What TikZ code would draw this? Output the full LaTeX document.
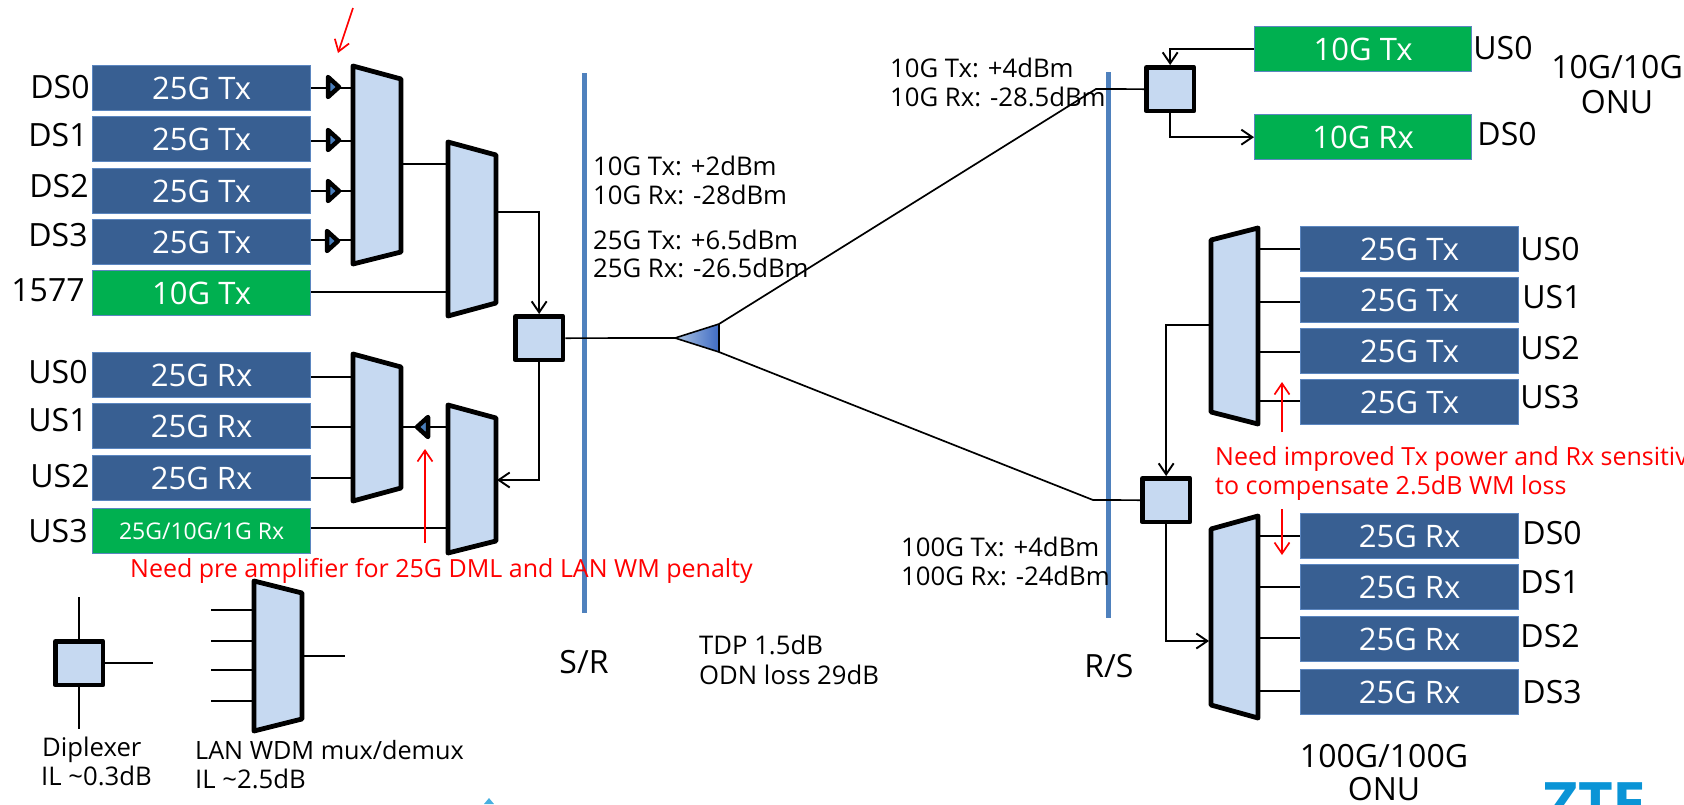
\documentclass[tikz,border=0pt]{standalone}
\usepackage{fontspec}
\setmainfont{Open Sans}
\usetikzlibrary{arrows.meta}
\definecolor{boxblue}{HTML}{385F92}
\definecolor{boxedge}{HTML}{5B86C0}
\definecolor{boxgreen}{HTML}{00B050}
\definecolor{lightfill}{HTML}{C6D9F1}
\definecolor{barblue}{HTML}{4F81BD}
\definecolor{ampblue}{HTML}{4A7EBB}
\definecolor{ztecol}{HTML}{0A94D6}
\newcommand{\bigf}{\fontsize{31}{36}\selectfont}
\newcommand{\medf}{\fontsize{32}{36}\selectfont}
\newcommand{\smf}{\fontsize{25.7}{29}\selectfont}
\newcommand{\redf}{\fontsize{25}{29}\selectfont}
\tikzset{
 x=1pt,y=-1pt,
 bx/.style={draw=boxedge,line width=1.3pt,fill=boxblue,text=white,font=\bigf,minimum width=218pt,minimum height=45pt,inner sep=0pt,anchor=north west},
 gx/.style={bx,fill=boxgreen},
 lbl/.style={font=\medf,text=black,inner sep=0pt,anchor=base},
 note/.style={font=\smf,text=black,inner sep=0pt,anchor=base west},
 dpx/.style={draw=black,line width=4.8pt,line join=round,fill=lightfill,inner sep=0pt,minimum width=47.5pt,minimum height=43.5pt,anchor=north west},
 mx/.style={draw=black,line width=4.8pt,line join=round,fill=lightfill},
 amp/.style={draw=black,line width=4.5pt,line join=round,fill=ampblue},
 wire/.style={draw=black,line width=1.7pt},
 arr/.style={wire,-{Straight Barb[length=11pt,width=15pt,line width=1.9pt]}},
 redarr/.style={draw=red,line width=1.7pt,-{Straight Barb[length=11pt,width=15pt,line width=1.7pt]}},
 bar/.style={draw=barblue,line width=5pt},
 rednote/.style={font=\redf,text=red,inner sep=0pt,anchor=base west},
}
\begin{document}
\begin{tikzpicture}
\useasboundingbox (0,0) rectangle (1684,804);
% S/R, R/S bars
\draw[bar] (584,73) -- (584,613);
\draw[bar] (1108,72) -- (1108,618);
% Left boxes
\node[bx] (ds0) at (92,65) {25G Tx};
\node[bx] (ds1) at (92,116) {25G Tx};
\node[bx] (ds2) at (92,168) {25G Tx};
\node[bx] (ds3) at (92,219) {25G Tx};
\node[gx] (g1577) at (92,270) {10G Tx};
\node[bx] (us0) at (92,352) {25G Rx};
\node[bx] (us1) at (92,403) {25G Rx};
\node[bx] (us2) at (92,455) {25G Rx};
\node[gx,font=\fontsize{23}{27}\selectfont] (us3) at (92,508) {25G/10G/1G Rx};
% Left labels
\node[lbl] (lds0) at (60,98) {DS0};
\node[lbl] (lds1) at (58,146) {DS1};
\node[lbl] (lds2) at (59,197) {DS2};
\node[lbl] (lds3) at (58,246) {DS3};
\node[lbl] (l1577) at (48,301) {1577};
\node[lbl] (lus0) at (58,383) {US0};
\node[lbl] (lus1) at (58,431) {US1};
\node[lbl] (lus2) at (60,487) {US2};
\node[lbl] (lus3) at (58,542) {US3};
% Wires behind muxes (left)
\draw[wire] (311,88) -- (351,88);
\draw[wire] (311,141) -- (351,141);
\draw[wire] (311,191) -- (351,191);
\draw[wire] (311,240) -- (351,240);
\draw[wire] (402,164) -- (446,164);
\draw[wire] (311,292) -- (446,292);
\draw[wire] (311,377) -- (351,377);
\draw[wire] (311,427) -- (351,427);
\draw[wire] (311,478) -- (351,478);
\draw[wire] (311,528) -- (446,528);
\draw[wire] (402,427) -- (446,427);
% Amps
\draw[amp] (328,77) -- (339,87) -- (328,97) -- cycle;
\draw[amp] (328,130) -- (339,140) -- (328,150) -- cycle;
\draw[amp] (328,181) -- (339,191) -- (328,201) -- cycle;
\draw[amp] (327,231) -- (338,241) -- (327,251) -- cycle;
\draw[amp] (428,417) -- (417,427) -- (428,437) -- cycle;
% Muxes
\draw[mx] (353,66) -- (401,79) -- (401,252) -- (353,264) -- cycle;
\draw[mx] (448,142) -- (496,155) -- (496,303) -- (448,316) -- cycle;
\draw[mx] (353,354) -- (401,367) -- (401,488) -- (353,501) -- cycle;
\draw[mx] (448,405) -- (496,418) -- (496,541) -- (448,553) -- cycle;
\draw[mx] (1211,240) -- (1258,228) -- (1258,424) -- (1211,412) -- cycle;
\draw[mx] (1211,529) -- (1258,516) -- (1258,718) -- (1211,705) -- cycle;
\draw[mx] (254,581) -- (302,593) -- (302,719) -- (254,731) -- cycle;
% Diplexers
\node[dpx] (dA) at (513,314) {};
\node[dpx] (dB) at (1144,65) {};
\node[dpx] (dC) at (1140,476) {};
\node[dpx] (dL) at (53,639) {};
% Splitter
\shade[left color=ampblue!45!white,right color=ampblue!85!blue] (675,338) -- (719,324) -- (719,352) -- cycle;
\draw[line width=1.6pt,line join=round] (675,338) -- (719,324) -- (719,352) -- cycle;
\coordinate (spt) at (675,338);
\coordinate (sptop) at (719,324);
\coordinate (spbot) at (719,352);
% Left flow
\draw[arr] (497,212) -| (dA.north);
\draw[arr] (dA.south) |- (497,480);
\draw[wire] (dA.east) -- (spt);
% Fibres
\draw[wire] (sptop) -- (1096,89) -- (dB.west);
\draw[wire] (spbot) -- (1093,500) -- (dC.west);
% Right boxes
\node[gx,minimum width=217pt] (t10) at (1254,26) {10G Tx};
\node[gx,minimum width=217pt] (r10) at (1254,114) {10G Rx};
\node[bx] (u0) at (1300,226) {25G Tx};
\node[bx] (u1) at (1300,277) {25G Tx};
\node[bx] (u2) at (1300,328) {25G Tx};
\node[bx] (u3) at (1300,379) {25G Tx};
\node[bx] (d0) at (1300,513) {25G Rx};
\node[bx] (d1) at (1300,564) {25G Rx};
\node[bx] (d2) at (1300,616) {25G Rx};
\node[bx] (d3) at (1300,669) {25G Rx};
% Right wires
\draw[arr] (t10.west) -| (dB.north);
\draw[arr] (dB.south) |- (r10.west);
\draw[wire] (1259,249) -- (1300,249);
\draw[wire] (1259,302) -- (1300,302);
\draw[wire] (1259,352) -- (1300,352);
\draw[wire] (1259,401) -- (1300,401);
\draw[wire] (1259,536) -- (1300,536);
\draw[wire] (1259,587) -- (1300,587);
\draw[wire] (1259,638) -- (1300,638);
\draw[wire] (1259,691) -- (1300,691);
\draw[arr] (1209,325) -| (dC.north);
\draw[arr] (dC.south) |- (1209,641);
% Right labels
\node[lbl] (rus0) at (1503,59) {US0};
\node[lbl] (rds0) at (1507,145) {DS0};
\node[lbl] (a0) at (1550,260) {US0};
\node[lbl] (a1) at (1552,308) {US1};
\node[lbl] (a2) at (1550,359) {US2};
\node[lbl] (a3) at (1550,408) {US3};
\node[lbl] (b0) at (1552,544) {DS0};
\node[lbl] (b1) at (1550,593) {DS1};
\node[lbl] (b2) at (1550,647) {DS2};
\node[lbl] (b3) at (1552,703) {DS3};
\node[lbl] (onu10a) at (1617,78) {10G/10G};
\node[lbl] (onu10b) at (1617,113) {ONU};
\node[lbl] (onu100a) at (1384,767) {100G/100G};
\node[lbl] (onu100b) at (1384,800) {ONU};
% Notes
\node[note] at (890,77) {10G Tx: +4dBm};
\node[note] at (890,106) {10G Rx: -28.5dBm};
\node[note] at (593,175) {10G Tx: +2dBm};
\node[note] at (593,204) {10G Rx: -28dBm};
\node[note] at (593,249) {25G Tx: +6.5dBm};
\node[note] at (593,277) {25G Rx: -26.5dBm};
\node[note] at (901,556) {100G Tx: +4dBm};
\node[note] at (901,585) {100G Rx: -24dBm};
\node[note] at (699,654) {TDP 1.5dB};
\node[note] at (699,684) {ODN loss 29dB};
\node[lbl] (sr) at (584,673) {S/R};
\node[lbl] (rs) at (1109,677) {R/S};
% Red
\draw[redarr] (353,8) -- (338,53);
\draw[redarr] (425,543) -- (425,449);
\draw[redarr] (1282,432) -- (1282,382);
\draw[redarr] (1282,509) -- (1282,555);
\node[rednote] at (130,577) {Need pre amplifier for 25G DML and LAN WM penalty};
\begin{scope}
\clip (0,0) rectangle (1684,804);
\node[rednote] at (1215,465) {Need improved Tx power and Rx sensitivity};
\end{scope}
\node[rednote] at (1215,494) {to compensate 2.5dB WM loss};
% Legend
\draw[wire] (dL.north) -- ++(0,-42);
\draw[wire] (dL.south) -- ++(0,42);
\draw[wire] (dL.east) -- ++(48,0);
\draw[wire] (211,610) -- (252,610);
\draw[wire] (211,641) -- (252,641);
\draw[wire] (211,670) -- (252,670);
\draw[wire] (211,701) -- (252,701);
\draw[wire] (303,656) -- (345,656);
\node[note] at (42,756) {Diplexer};
\node[note] at (41,785) {IL \textasciitilde 0.3dB};
\node[note,font=\fontsize{25.2}{29}\selectfont] at (195,759) {LAN WDM mux/demux};
\node[note] at (195,788) {IL \textasciitilde 2.5dB};
% Logo
\begin{scope}
\clip (0,0) rectangle (1684,804);
\node[font=\fontsize{60}{60}\bfseries\selectfont,text=ztecol,inner sep=0pt,anchor=base] (zte) at (1595,825) {ZTE};
\fill[ztecol!75!white] (484,804) -- (489,798) -- (494,804) -- cycle;
\end{scope}
\end{tikzpicture}
\end{document}
